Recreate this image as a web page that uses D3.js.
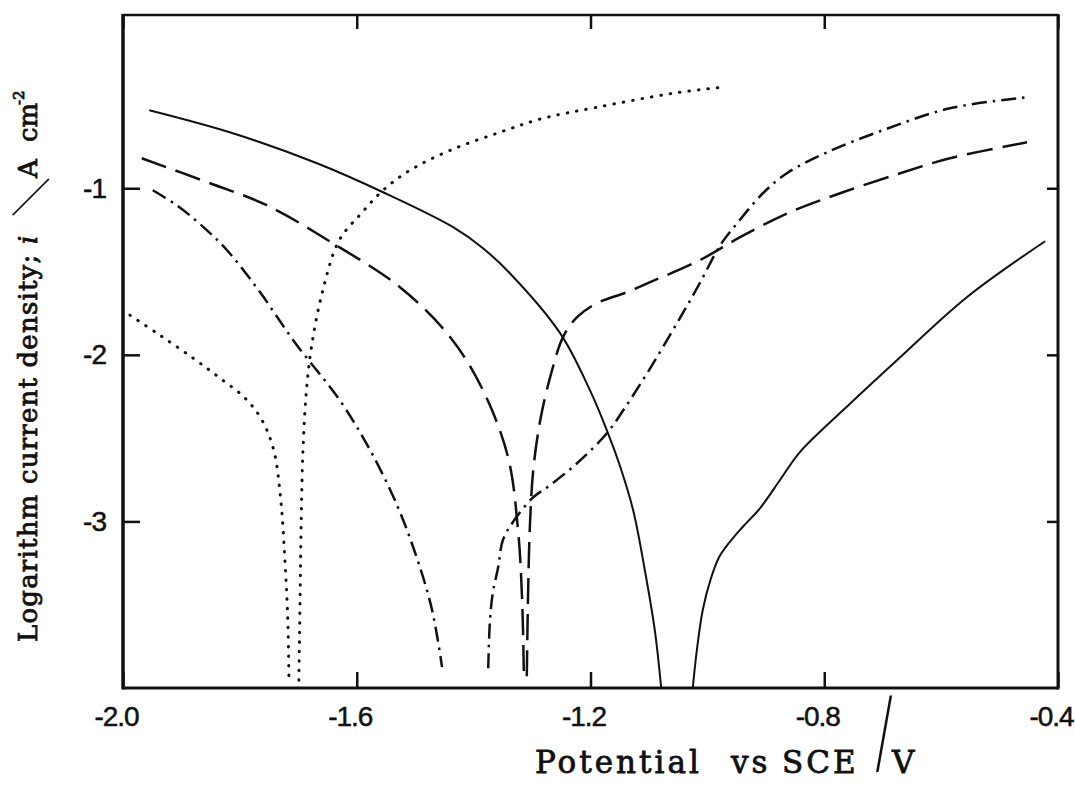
<html>
<head>
<script src="https://d3js.org/d3.v7.min.js"></script>
<style>
  body { margin: 0; background: #fff; }
  .title { font-family: "DejaVu Serif", serif; fill: #111; stroke: #111; stroke-width: 0.8; }
  .curve { fill: none; stroke: #111; }
</style>
</head>
<body>
<script>
// tick values
const potentialTicks = [-2.0, -1.6, -1.2, -0.8, -0.4];
const currentTicks = [-1, -2, -3];

// [potential / V vs SCE, log current density]
const solidCathodic = [[-1.955,-0.532],[-1.812,-0.670],[-1.668,-0.850],[-1.555,-1.024],[-1.435,-1.234],
  [-1.384,-1.360],[-1.338,-1.510],[-1.252,-1.870],[-1.201,-2.212],[-1.172,-2.453],[-1.150,-2.663],
  [-1.127,-2.933],[-1.107,-3.293],[-1.090,-3.653],[-1.079,-4.0]];
const solidAnodic = [[-1.025,-4.0],[-1.018,-3.773],[-1.008,-3.533],[-0.994,-3.343],[-0.980,-3.215],
  [-0.962,-3.125],[-0.940,-3.035],[-0.910,-2.921],[-0.876,-2.753],[-0.842,-2.585],[-0.768,-2.333],
  [-0.670,-2.014],[-0.556,-1.654],[-0.422,-1.318]];
const dashedCathodic = [[-1.968,-0.820],[-1.851,-0.970],[-1.754,-1.102],[-1.641,-1.330],[-1.526,-1.594],
  [-1.440,-1.894],[-1.384,-2.212],[-1.341,-2.615],[-1.324,-3.053],[-1.317,-3.473],[-1.314,-3.929]];
const dashedAnodic = [[-1.309,-3.929],[-1.307,-3.473],[-1.304,-3.053],[-1.298,-2.693],[-1.286,-2.393],
  [-1.269,-2.134],[-1.247,-1.894],[-1.223,-1.774],[-1.189,-1.690],[-1.138,-1.624],[-1.098,-1.564],
  [-1.013,-1.432],[-0.944,-1.294],[-0.859,-1.144],[-0.768,-1.024],[-0.670,-0.910],[-0.585,-0.820],
  [-0.453,-0.724]];
const dashDotCathodic = [[-1.949,-1.012],[-1.908,-1.102],[-1.868,-1.216],[-1.822,-1.372],[-1.766,-1.622],
  [-1.705,-1.930],[-1.629,-2.273],[-1.577,-2.573],[-1.531,-2.903],[-1.497,-3.221],[-1.471,-3.533],
  [-1.454,-3.875]];
const dashDotAnodic = [[-1.375,-3.881],[-1.372,-3.593],[-1.367,-3.425],[-1.358,-3.275],[-1.350,-3.113],
  [-1.333,-3.005],[-1.298,-2.855],[-1.274,-2.795],[-1.223,-2.651],[-1.172,-2.471],[-1.144,-2.333],
  [-1.103,-2.110],[-1.047,-1.780],[-1.013,-1.570],[-0.978,-1.342],[-0.949,-1.210],[-0.905,-1.030],
  [-0.864,-0.910],[-0.795,-0.784],[-0.700,-0.652],[-0.585,-0.520],[-0.453,-0.454]];
const dottedCathodic = [[-1.988,-1.762],[-1.937,-1.882],[-1.880,-2.020],[-1.834,-2.140],[-1.791,-2.260],
  [-1.762,-2.393],[-1.742,-2.573],[-1.730,-2.873],[-1.723,-3.233],[-1.718,-3.593],[-1.716,-3.953]];
const dottedAnodic = [[-1.699,-3.953],[-1.697,-3.473],[-1.695,-2.993],[-1.692,-2.573],[-1.686,-2.212],
  [-1.677,-1.942],[-1.658,-1.612],[-1.630,-1.312],[-1.592,-1.150],[-1.555,-1.012],[-1.509,-0.892],
  [-1.440,-0.772],[-1.355,-0.664],[-1.281,-0.580],[-1.189,-0.514],[-1.059,-0.430],[-0.975,-0.394]];

var svg = d3.select("body").append("svg").attr("width",1075).attr("height",790);
let margin = {"top":15,"right":17,"bottom":102,"left":123};
let chartWidth = 1075 - margin.left - margin.right;
let chartHeight = 790 - margin.top - margin.bottom;

const xScale = d3.scaleLinear().domain([-2.0,-0.4]).range([margin.left, margin.left+chartWidth]);
const yScale = d3.scaleLinear().domain([-4, 0.04]).range([margin.top+chartHeight, margin.top]);

// axes (ticks point inward)
let bottomAxis = d3.axisBottom(xScale).tickValues(potentialTicks).tickSize(-16).tickPadding(18)
    .tickFormat(d => d.toFixed(1));
let topAxis = d3.axisTop(xScale).tickValues(potentialTicks).tickSize(-14).tickFormat("");
let leftAxis = d3.axisLeft(yScale).tickValues(currentTicks).tickSize(-17).tickPadding(17)
    .tickFormat(d => String(d));
let rightAxis = d3.axisRight(yScale).tickValues(currentTicks).tickSize(-11).tickFormat("");

let gb = svg.append("g").attr("transform","translate(0,"+(margin.top+chartHeight)+")").call(bottomAxis);
gb.selectAll("text").attr("dx", -7);
svg.append("g").attr("transform","translate(0,"+margin.top+")").call(topAxis);
svg.append("g").attr("transform","translate("+margin.left+",0)").call(leftAxis);
svg.append("g").attr("transform","translate("+(margin.left+chartWidth)+",0)").call(rightAxis);
svg.selectAll(".domain").remove();
svg.selectAll(".tick line").attr("stroke","#111").attr("stroke-width",2.5);
svg.selectAll(".tick text")
  .style("font-family","'Liberation Sans', Arial, sans-serif")
  .style("font-size","28px").style("letter-spacing","-1px")
  .attr("fill","#111").attr("stroke","#111").attr("stroke-width",0.5);

// frame
let x0 = xScale(-2.0), x1 = xScale(-0.4), y0 = yScale(-4), y1 = yScale(0.04);
svg.append("line").attr("x1",x0).attr("x2",x1).attr("y1",y1).attr("y2",y1).attr("stroke","#111").attr("stroke-width",2.5);
svg.append("line").attr("x1",x0).attr("x2",x1).attr("y1",y0).attr("y2",y0).attr("stroke","#111").attr("stroke-width",3);
svg.append("line").attr("x1",x0).attr("x2",x0).attr("y1",y1-1).attr("y2",y0+1.5).attr("stroke","#111").attr("stroke-width",3.5);
svg.append("line").attr("x1",x1).attr("x2",x1).attr("y1",y1-1).attr("y2",y0+1.5).attr("stroke","#111").attr("stroke-width",3);

// curves
var lineGen = d3.line().x(d => xScale(d[0])).y(d => yScale(d[1])).curve(d3.curveCatmullRom.alpha(0.5));
let styles = [
  {data: solidCathodic, dash: null, w: 2},
  {data: solidAnodic, dash: null, w: 2},
  {data: dashedCathodic, dash: "26,10", w: 2.5},
  {data: dashedAnodic, dash: "26,10", w: 2.5},
  {data: dashDotCathodic, dash: "15,6,2.5,6", w: 2.5},
  {data: dashDotAnodic, dash: "15,6,2.5,6", w: 2.5},
  {data: dottedCathodic, dash: "0.5,9", w: 3, cap: "round"},
  {data: dottedAnodic, dash: "0.5,9", w: 3, cap: "round"}
];
styles.forEach(s => {
  svg.append("path").datum(s.data).attr("class","curve")
    .attr("stroke-width", s.w)
    .attr("stroke-dasharray", s.dash)
    .attr("stroke-linecap", s.cap || "butt")
    .attr("d", lineGen);
});

// x axis title
let xt = svg.append("text").attr("class","title").attr("y",773).style("font-size","31px").style("letter-spacing","3px");
xt.append("tspan").attr("x",535).text("Potential");
xt.append("tspan").attr("x",731).text("vs");
xt.append("tspan").attr("x",782).text("SCE");
xt.append("tspan").attr("x",892).text("V");
svg.append("text").attr("transform","translate(885,735) rotate(-11)")
  .attr("text-anchor","middle").attr("dy","0.31em")
  .style("font-family","Roboto, Lato, sans-serif").style("font-weight",100).style("font-size","94px")
  .attr("fill","#111").text("/");

// y axis title (rotated)
let yt = svg.append("text").attr("class","title").attr("transform","translate(37,642) rotate(-90)")
  .style("font-size","26px");
yt.append("tspan").attr("x",0).style("letter-spacing","1.2px").text("Logarithm current density;");
yt.append("tspan").attr("x",398).style("font-style","italic").text("i");
yt.append("tspan").attr("x",464).text("A");
yt.append("tspan").attr("x",500).text("cm");
yt.append("tspan").attr("x",537).attr("dy",-13).style("font-size","15px").text("-2");
svg.append("text").attr("transform","translate(31,198) rotate(24)")
  .attr("text-anchor","middle").attr("dy","0.31em")
  .style("font-family","Roboto, Lato, sans-serif").style("font-weight",100).style("font-size","62px")
  .attr("fill","#111").text("/");
</script>
</body>
</html>
